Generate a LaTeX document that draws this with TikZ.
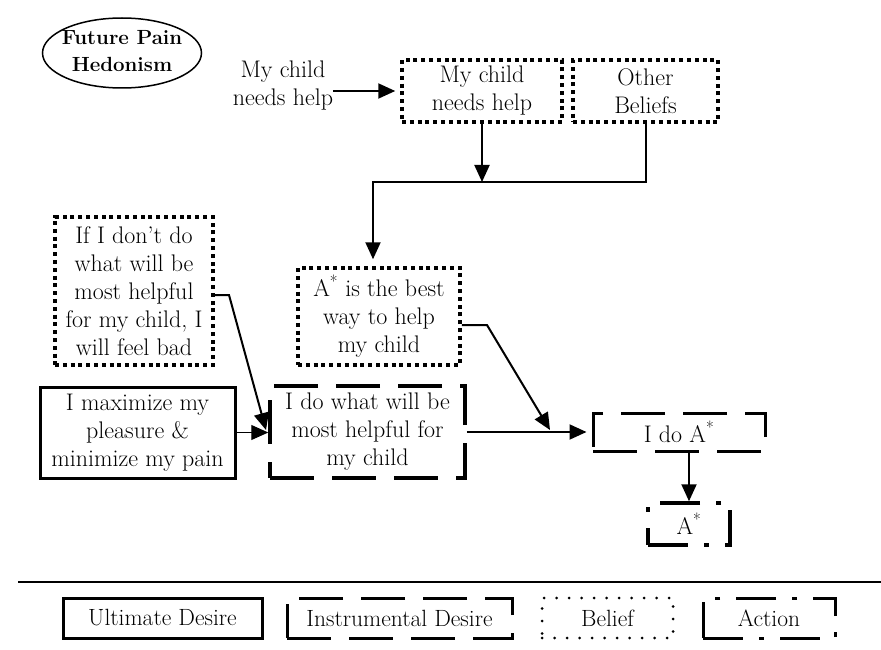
\documentclass[tikz,border=0pt]{standalone}
\usetikzlibrary{arrows.meta,shapes.geometric}
\newcommand\mainsize{\fontsize{24}{28}\selectfont}
\newcommand\titlesize{\fontsize{20.5}{27}\selectfont}
\newcommand\legendsize{\fontsize{23.5}{26}\selectfont}
\begin{document}
\begin{tikzpicture}[x=1pt,y=-1pt,
  every node/.style={align=center, inner sep=0pt, font=\mainsize},
  box/.style 2 args={minimum width=#1, minimum height=#2},
  ultimate/.style={draw, line width=3pt},
  instr/.style={draw, line width=3.5pt, dash pattern=on 44pt off 18pt},
  belief/.style={draw, line width=3.5pt, dash pattern=on 4pt off 3.8pt},
  action/.style={draw, line width=3.5pt, dash pattern=on 40pt off 16pt on 5pt off 16pt},
  beliefkey/.style={draw, line width=3pt, line cap=round, dash pattern=on 0pt off 12.5pt},
  conn/.style={line width=2pt, line join=miter},
  arr/.style={conn, -{Triangle[length=17pt,width=15pt]}}]
\useasboundingbox (0,0) rectangle (881,650);

% title
\node[draw, ellipse, line width=1.5pt, minimum width=159pt, minimum height=70pt,
      inner xsep=-11pt, inner ysep=-7pt,
      font=\titlesize\bfseries] (title) at (122,53)
  {\raisebox{4pt}{\begin{tabular}{@{}c@{}}Future Pain\\Hedonism\end{tabular}}};

% beliefs and desires
\node (mc) at (283,86) {My child\\needs help};
\node[belief, box={160pt}{62pt}] (b1) at (482,91) {My child\\needs help};
\node[belief, box={145pt}{62pt}] (b2) at (645.5,91) {Other\\Beliefs};
\node[belief, box={158pt}{148pt}] (b3) at (134,291)
  {If I don’t do\\what will be\\most helpful\\for my child, I\\will feel bad};
\node[belief, box={162pt}{97pt}] (b4) at (379,316.5)
  {A\textsuperscript{*} is the best\\way to help\\my child};
\node[ultimate, box={195pt}{91pt}] (u1) at (137.5,432.5)
  {I maximize my\\pleasure \&\\minimize my pain};
\node[instr, box={195pt}{92pt}] (i1) at (367.5,432)
  {I do what will be\\most helpful for\\my child};
\node[instr, line width=3pt, box={172pt}{38pt}] (i2) at (679,432) {I do A\textsuperscript{*}};
\node[action, box={82pt}{42pt}] (a1) at (689,524) {A\textsuperscript{*}};

% connectors
\coordinate (j) at (373,182);
\coordinate (k1) at (229,295);
\coordinate (t1) at (266,430);
\coordinate (k2) at (487,325);
\coordinate (t2) at (550,430);

\draw[arr, shorten >=5pt] (mc.east |- b1.west) -- (b1.west);
\draw[arr] (b1.south) -- (b1.south |- j);
\draw[arr, shorten >=7pt] (b2.south) |- (j) -- (j |- b4.north);
\draw[arr] (b3.east |- k1) -- (k1) -- (t1);
\draw[arr, line width=1pt] (u1.east) -- (u1.east -| i1.west);
\draw[arr] (b4.east |- k2) -- (k2) -- (t2);
\draw[arr, shorten >=5pt] (i1.east) -- (i2.west);
\draw[arr] (i2.south -| a1.north) -- (a1.north);

% key
\draw[line width=1.5pt] (18,582) -- (881,582);
\node[ultimate, box={199pt}{40pt}, font=\legendsize] (l1) at (162.5,618) {Ultimate Desire};
\node[instr, line width=3pt, box={225pt}{40pt}, font=\legendsize] (l2) at (399.5,618) {Instrumental Desire};
\node[beliefkey, box={131pt}{40pt}, font=\legendsize] (l3) at (607.5,618) {Belief};
\node[action, line width=3pt, box={132pt}{40pt}, font=\legendsize] (l4) at (769,618) {Action};
\end{tikzpicture}
\end{document}
